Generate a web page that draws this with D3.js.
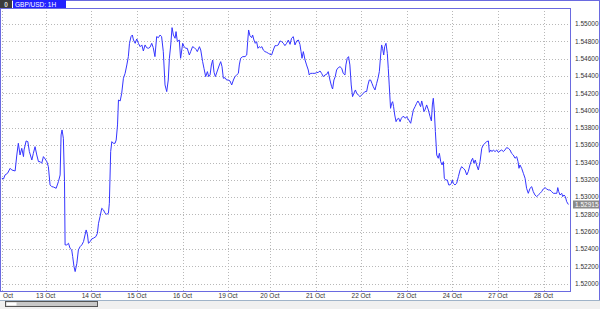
<!DOCTYPE html>
<html>
<head>
<meta charset="utf-8">
<script src="https://cdn.jsdelivr.net/npm/d3@7"></script>
<style>
  html, body { margin: 0; padding: 0; background: #fff; }
  svg { display: block; font-family: "Liberation Sans", Arial, sans-serif; }
</style>
</head>
<body>
<div id="chart"></div>
<script>
const symbolTitle = 'GBP/USD: 1H';
const lastPrice = 1.52915;

// y axis levels shown on the right scale
const priceTicks = [1.520, 1.522, 1.524, 1.526, 1.528, 1.530, 1.532, 1.534, 1.536, 1.538, 1.540, 1.542, 1.544, 1.546, 1.548, 1.550];

// bar index (hours from left edge) where each date separator sits
const dayBars = [1, 24, 48, 72, 96, 120, 142, 166, 190, 214, 238, 262, 286];
const dayLabels = ['Oct', '13 Oct', '14 Oct', '15 Oct', '16 Oct', '19 Oct', '20 Oct', '21 Oct', '22 Oct', '23 Oct', '24 Oct', '27 Oct', '28 Oct'];

// [bar, close]
const closes = [
  [0.9, 1.53218], [1.8, 1.53210], [2.6, 1.53256], [3.9, 1.53275], [5.3, 1.53333], [6.1, 1.53314], [7.9, 1.53302],
  [8.8, 1.53487], [9.6, 1.53622], [10.5, 1.53487], [11.4, 1.53564], [12.3, 1.53468], [12.6, 1.53545], [13.7, 1.53649],
  [14.6, 1.53641], [15.4, 1.53526], [16.7, 1.53429], [17.5, 1.53506], [18.4, 1.53583], [19.3, 1.53487], [20.2, 1.53410],
  [21.1, 1.53410], [21.9, 1.53391], [22.8, 1.53468], [23.7, 1.53441], [24.6, 1.53410], [25.4, 1.53352], [26.3, 1.53141],
  [27.2, 1.53121], [28.1, 1.53117], [29.5, 1.53102], [30.7, 1.53179], [31.6, 1.53256], [32.1, 1.53718], [32.6, 1.53776],
  [33.3, 1.53680], [33.9, 1.53179], [34.2, 1.52448], [35.1, 1.52448], [36.0, 1.52467], [36.8, 1.52409], [37.7, 1.52390],
  [38.2, 1.52313], [38.9, 1.52197], [39.5, 1.52140], [40.4, 1.52236], [41.2, 1.52390], [42.1, 1.52428], [43.0, 1.52448],
  [43.9, 1.52486], [44.7, 1.52563], [45.3, 1.52621], [46.0, 1.52563], [46.5, 1.52467], [47.4, 1.52486], [48.2, 1.52517],
  [49.1, 1.52525], [50.4, 1.52544], [51.2, 1.52582], [51.8, 1.52698], [52.6, 1.52775], [53.5, 1.52871], [54.4, 1.52852],
  [55.3, 1.52813], [56.1, 1.52802], [57.0, 1.52813], [57.5, 1.52929], [58.2, 1.53526], [58.8, 1.53641], [59.6, 1.53622],
  [60.5, 1.53622], [61.1, 1.53660], [61.8, 1.53834], [62.3, 1.54122], [63.2, 1.54111], [64.0, 1.54199], [64.9, 1.54373],
  [65.8, 1.54430], [66.7, 1.54527], [67.5, 1.54623], [68.1, 1.54777], [68.9, 1.54854], [69.6, 1.54873], [70.2, 1.54815],
  [71.1, 1.54777], [71.9, 1.54827], [72.8, 1.54777], [73.7, 1.54738], [74.6, 1.54758], [75.4, 1.54688], [76.3, 1.54758],
  [77.1, 1.54727], [78.0, 1.54719], [78.9, 1.54731], [79.8, 1.54777], [80.6, 1.54727], [81.5, 1.54623], [82.4, 1.54854],
  [83.3, 1.54842], [84.2, 1.54873], [85.0, 1.54854], [85.9, 1.54681], [86.8, 1.54296], [87.7, 1.54219], [88.5, 1.54353],
  [89.1, 1.54604], [89.8, 1.54758], [90.5, 1.54958], [91.2, 1.54873], [92.1, 1.54835], [92.6, 1.54912], [93.3, 1.54796],
  [94.3, 1.54815], [95.0, 1.54604], [96.1, 1.54777], [96.8, 1.54738], [97.8, 1.54719], [98.5, 1.54719], [99.6, 1.54642],
  [100.3, 1.54681], [101.3, 1.54738], [102.2, 1.54727], [103.1, 1.54707], [103.8, 1.54681], [104.9, 1.54738], [105.6, 1.54700],
  [106.6, 1.54565], [107.3, 1.54488], [108.2, 1.54392], [109.1, 1.54450], [109.8, 1.54392], [110.5, 1.54411], [111.2, 1.54527],
  [111.9, 1.54584], [112.6, 1.54442], [113.3, 1.54392], [114.3, 1.54457], [115.4, 1.54527], [116.1, 1.54565], [116.8, 1.54507],
  [117.5, 1.54373], [118.4, 1.54380], [119.2, 1.54353], [120.1, 1.54353], [121.0, 1.54342], [121.9, 1.54296], [122.8, 1.54353],
  [123.6, 1.54392], [124.5, 1.54411], [125.4, 1.54430], [125.9, 1.54527], [126.6, 1.54604], [127.7, 1.54623], [128.9, 1.54623],
  [129.8, 1.54642], [130.3, 1.54796], [130.8, 1.54931], [131.5, 1.54865], [132.4, 1.54842], [132.9, 1.54873], [133.6, 1.54815],
  [134.3, 1.54777], [135.0, 1.54796], [135.7, 1.54719], [136.4, 1.54738], [137.1, 1.54727], [137.8, 1.54738], [138.5, 1.54700],
  [139.4, 1.54681], [140.3, 1.54673], [141.2, 1.54661], [142.1, 1.54650], [142.9, 1.54642], [143.8, 1.54700], [144.7, 1.54750],
  [145.6, 1.54750], [146.4, 1.54758], [147.3, 1.54804], [148.2, 1.54796], [149.1, 1.54777], [149.9, 1.54750], [150.8, 1.54777],
  [151.7, 1.54815], [152.6, 1.54765], [153.4, 1.54835], [154.3, 1.54854], [155.2, 1.54758], [156.1, 1.54804], [157.0, 1.54815],
  [157.8, 1.54765], [158.4, 1.54681], [158.9, 1.54604], [159.6, 1.54681], [160.5, 1.54584], [161.3, 1.54527], [162.2, 1.54469],
  [162.7, 1.54411], [163.4, 1.54430], [164.5, 1.54430], [165.7, 1.54430], [166.6, 1.54438], [167.5, 1.54442], [168.4, 1.54457],
  [169.2, 1.54430], [170.1, 1.54392], [171.0, 1.54411], [171.9, 1.54419], [172.7, 1.54450], [173.6, 1.54353], [174.5, 1.54276],
  [175.0, 1.54249], [175.7, 1.54353], [176.4, 1.54392], [177.1, 1.54469], [178.0, 1.54496], [178.9, 1.54507], [179.8, 1.54488],
  [180.6, 1.54430], [181.5, 1.54411], [182.0, 1.54527], [182.7, 1.54604], [183.4, 1.54623], [184.1, 1.54527], [184.8, 1.54296],
  [185.5, 1.54161], [186.2, 1.54199], [187.0, 1.54238], [187.7, 1.54199], [188.5, 1.54180], [189.4, 1.54161], [190.3, 1.54180],
  [191.2, 1.54199], [192.0, 1.54219], [192.9, 1.54219], [193.6, 1.54296], [194.3, 1.54353], [195.0, 1.54353], [195.7, 1.54315],
  [196.4, 1.54276], [197.3, 1.54238], [198.2, 1.54315], [198.9, 1.54373], [199.6, 1.54450], [200.3, 1.54642], [200.8, 1.54758],
  [201.3, 1.54719], [201.9, 1.54642], [202.4, 1.54738], [203.1, 1.54777], [203.8, 1.54661], [204.3, 1.54488], [204.8, 1.54296],
  [205.5, 1.54026], [206.1, 1.54084], [206.6, 1.54103], [207.1, 1.54045], [207.7, 1.53949], [208.4, 1.53872], [209.1, 1.53903],
  [209.8, 1.53911], [210.5, 1.53872], [211.2, 1.53911], [211.9, 1.53930], [212.6, 1.53930], [213.3, 1.53911], [214.0, 1.53930],
  [214.7, 1.53903], [215.4, 1.53880], [216.1, 1.53853], [216.8, 1.53930], [217.5, 1.54007], [218.4, 1.54045], [219.2, 1.54084],
  [219.9, 1.54111], [220.6, 1.54084], [221.3, 1.54045], [221.9, 1.54111], [222.4, 1.54065], [223.1, 1.53988], [223.6, 1.54007],
  [224.5, 1.54065], [225.4, 1.54007], [226.3, 1.53930], [227.0, 1.53880], [227.5, 1.54065], [228.0, 1.54142], [228.5, 1.54007],
  [229.1, 1.53757], [229.8, 1.53487], [230.6, 1.53449], [231.2, 1.53506], [231.9, 1.53410], [232.6, 1.53372], [233.3, 1.53410],
  [233.8, 1.53218], [234.5, 1.53198], [235.4, 1.53198], [236.1, 1.53141], [236.8, 1.53141], [237.5, 1.53160], [238.0, 1.53198],
  [238.5, 1.53160], [239.4, 1.53141], [240.3, 1.53160], [241.2, 1.53237], [242.1, 1.53314], [242.9, 1.53352], [243.8, 1.53333],
  [244.7, 1.53314], [245.6, 1.53256], [246.4, 1.53295], [247.3, 1.53372], [248.2, 1.53429], [248.7, 1.53449], [249.4, 1.53391],
  [250.1, 1.53429], [250.8, 1.53372], [251.7, 1.53314], [252.6, 1.53410], [253.5, 1.53564], [254.3, 1.53603], [255.2, 1.53622],
  [256.1, 1.53641], [257.0, 1.53649], [257.5, 1.53518], [258.2, 1.53545], [258.9, 1.53526], [259.6, 1.53545], [260.5, 1.53526],
  [261.4, 1.53545], [262.2, 1.53518], [263.1, 1.53533], [264.0, 1.53545], [264.9, 1.53526], [265.7, 1.53545], [266.6, 1.53572],
  [267.5, 1.53564], [268.4, 1.53545], [269.2, 1.53506], [270.1, 1.53487], [271.0, 1.53449], [271.9, 1.53468], [272.6, 1.53410],
  [273.1, 1.53333], [273.6, 1.53372], [274.5, 1.53333], [275.4, 1.53275], [276.3, 1.53218], [277.1, 1.53102], [278.0, 1.53044],
  [278.9, 1.53102], [279.8, 1.53121], [280.6, 1.53064], [281.5, 1.53025], [282.4, 1.53006], [283.3, 1.53025], [284.2, 1.53044],
  [285.0, 1.53064], [285.9, 1.53094], [286.8, 1.53110], [287.7, 1.53094], [288.5, 1.53083], [289.4, 1.53083], [290.3, 1.53064],
  [291.2, 1.53044], [292.1, 1.53044], [293.0, 1.53044], [293.5, 1.53110], [294.0, 1.53064], [294.7, 1.53025], [295.6, 1.53044],
  [296.1, 1.53006], [296.8, 1.53025], [297.5, 1.53006], [298.2, 1.52948], [299.1, 1.52915]
];

const width = 600;
const height = 309;
const plot = { left: 0, top: 8, right: 571, bottom: 291 };
const frameColor = '#6a6ae0';
const lineColor = '#3535ff';
const gridColor = '#b8b8b8';
const textColor = '#333';

const svg = d3.select('#chart')
  .append('svg')
  .attr('width', width)
  .attr('height', height);

svg.append('rect').attr('width', width).attr('height', height).attr('fill', '#fff');

const xScale = d3.scaleLinear().domain([0, 300]).range([0.1, 570.1]);
const yScale = d3.scaleLinear().domain([1.52, 1.55]).range([283.7, 24]);

// grid
const grid = svg.append('g').attr('class', 'grid');
grid.selectAll('.h-grid')
  .data(priceTicks)
  .join('line')
  .attr('class', 'h-grid')
  .attr('x1', plot.left)
  .attr('x2', plot.right)
  .attr('y1', d => Math.round(yScale(d)) + 0.5)
  .attr('y2', d => Math.round(yScale(d)) + 0.5)
  .attr('stroke', gridColor)
  .attr('stroke-dasharray', '1 2');

grid.selectAll('.v-grid')
  .data(dayBars)
  .join('line')
  .attr('class', 'v-grid')
  .attr('x1', d => Math.round(xScale(d)) + 0.5)
  .attr('x2', d => Math.round(xScale(d)) + 0.5)
  .attr('y1', plot.top)
  .attr('y2', plot.bottom)
  .attr('stroke', gridColor)
  .attr('stroke-dasharray', '1 2');

// price line
const line = d3.line()
  .x(d => xScale(d[0]))
  .y(d => yScale(d[1]));

svg.append('path')
  .datum(closes)
  .attr('fill', 'none')
  .attr('stroke', lineColor)
  .attr('stroke-width', 1)
  .attr('stroke-linejoin', 'round')
  .attr('d', line);

// frame
svg.append('rect')
  .attr('x', plot.left + 0.5)
  .attr('y', plot.top + 0.5)
  .attr('width', plot.right - plot.left - 1)
  .attr('height', plot.bottom - plot.top)
  .attr('fill', 'none')
  .attr('stroke', frameColor);

svg.append('line')
  .attr('x1', 0).attr('x2', width)
  .attr('y1', 0.5).attr('y2', 0.5)
  .attr('stroke', frameColor);
svg.append('line')
  .attr('x1', width - 0.5).attr('x2', width - 0.5)
  .attr('y1', 0).attr('y2', 300)
  .attr('stroke', frameColor);

// right price scale
svg.selectAll('.price-label')
  .data(priceTicks)
  .join('text')
  .attr('class', 'price-label')
  .attr('x', plot.right + 4)
  .attr('y', d => yScale(d))
  .attr('dy', '0.35em')
  .attr('font-size', 6.5)
  .attr('fill', textColor)
  .text(d => d3.format('.5f')(d));

const lastY = yScale(lastPrice);
svg.append('rect')
  .attr('x', plot.right + 2)
  .attr('y', lastY - 4)
  .attr('width', width - plot.right - 3)
  .attr('height', 8)
  .attr('fill', '#8a8a8a');
svg.append('text')
  .attr('x', plot.right + 4)
  .attr('y', lastY)
  .attr('dy', '0.35em')
  .attr('font-size', 6.5)
  .attr('fill', '#fff')
  .text(d3.format('.5f')(lastPrice));

// time labels
svg.selectAll('.time-label')
  .data(dayBars)
  .join('text')
  .attr('class', 'time-label')
  .attr('x', (d, i) => (i === 0 ? 3 : xScale(d)))
  .attr('y', 297.5)
  .attr('text-anchor', (d, i) => (i === 0 ? 'start' : 'middle'))
  .attr('font-size', 6.5)
  .attr('fill', textColor)
  .text((d, i) => dayLabels[i]);

// scroll bar strip
svg.append('rect')
  .attr('x', 0).attr('y', 300)
  .attr('width', width).attr('height', 9)
  .attr('fill', '#f0f0f0');
svg.append('line')
  .attr('x1', 0).attr('x2', width)
  .attr('y1', 300.5).attr('y2', 300.5)
  .attr('stroke', '#9fb3c8');
svg.append('rect')
  .attr('x', 5.5).attr('y', 301.5)
  .attr('width', 92).attr('height', 5)
  .attr('fill', '#c8c8c8')
  .attr('stroke', '#555');
svg.append('rect')
  .attr('x', 6.5).attr('y', 302.5)
  .attr('width', 10).attr('height', 3)
  .attr('fill', '#fff');

// title tab
svg.append('rect')
  .attr('x', 0).attr('y', 0)
  .attr('width', 12).attr('height', 8)
  .attr('fill', '#3c3c3c');
svg.append('text')
  .attr('x', 6).attr('y', 6.5)
  .attr('text-anchor', 'middle')
  .attr('font-size', 6.5)
  .attr('font-weight', 'bold')
  .attr('fill', '#ddd')
  .text('0');
svg.append('rect')
  .attr('x', 13).attr('y', 0)
  .attr('width', 53).attr('height', 8)
  .attr('fill', '#2222ff');
svg.append('text')
  .attr('x', 15).attr('y', 6.5)
  .attr('font-size', 6.5)
  .attr('fill', '#fff')
  .text(symbolTitle);
</script>
</body>
</html>
